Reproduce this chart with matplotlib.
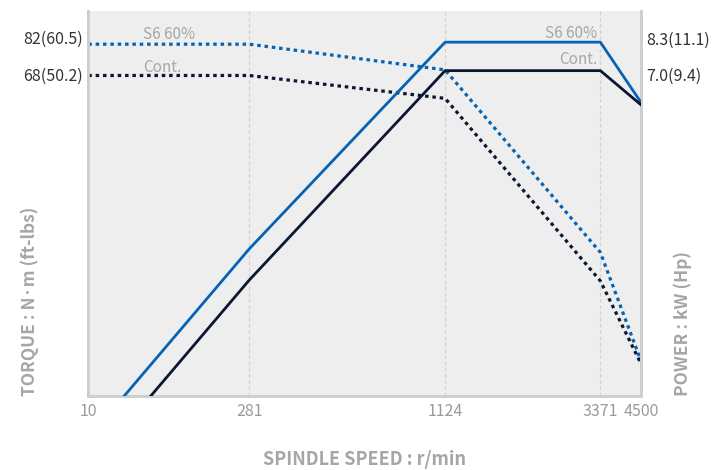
import matplotlib
matplotlib.use("Agg")
import matplotlib.pyplot as plt
from matplotlib.transforms import ScaledTranslation

plt.rcParams['font.family'] = ['Noto Sans CJK KR', 'DejaVu Sans']

# spindle speed (r/min)
speedTicks = [90, 281, 1124, 3371, 4500]
speedLabels = ["10", "281", "1124", "3371", "4500"]

# torque curves, N·m
torqueSpeed = [90, 281, 1124, 3371, 4500]
torqueS6 = [82, 82, 70.3, 23.6, 12.3]
torqueCont = [68, 68, 59.3, 19.9, 12.1]

# power curves, kW
powerSpeedS6 = [116, 281, 1124, 3371, 4500]
powerS6 = [1.0, 2.41, 8.3, 8.3, 5.78]
powerSpeedCont = [140, 281, 1124, 3371, 4500]
powerCont = [1.0, 2.0, 7.0, 7.0, 5.70]

torqueTicks = [82, 68]
torqueLabels = ["82(60.5)", "68(50.2)"]
powerTicks = [8.3, 7.0]
powerLabels = ["8.3(11.1)", "7.0(9.4)"]

blue = "#0663b3"
navy = "#0b1731"
grey = "#a6a6a6"
spine = "#cfcfcf"

fig = plt.figure(figsize=(7.25, 4.70), dpi=100)
ax = fig.add_axes([0.1218, 0.1574, 0.7626, 0.8192])
ax.set_facecolor("#eeeeee")
ax.set_xscale("log")
ax.set_yscale("log")
ax.set_xlim(90, 4500)
ax.set_ylim(10, 100)

ax2 = ax.twinx()
ax2.set_yscale("log")
ax2.set_ylim(1, 10)

for s in speedTicks[1:4]:
    ax.axvline(s, color="#d2d2d2", lw=0.9, ls=(0, (3, 2)), zorder=1)

dots = (0, (1.1, 1.2))
ax.plot(torqueSpeed, torqueS6, color=blue, lw=2.3, ls=dots, zorder=3)
ax.plot(torqueSpeed, torqueCont, color=navy, lw=2.3, ls=dots, zorder=3)
ax2.plot(powerSpeedS6, powerS6, color=blue, lw=2, zorder=3)
ax2.plot(powerSpeedCont, powerCont, color=navy, lw=2, zorder=3)

ax.set_xticks(speedTicks)
ax.set_xticklabels(speedLabels)
ax.xaxis.set_minor_locator(matplotlib.ticker.NullLocator())
ax.tick_params(axis="x", length=0, pad=5, labelsize=11.5, labelcolor="#9a9a9a")

ax.set_yticks(torqueTicks)
ax.set_yticklabels(torqueLabels)
ax.yaxis.set_minor_locator(matplotlib.ticker.NullLocator())
ax.tick_params(axis="y", length=0, pad=4, labelsize=11.5, labelcolor="#333333")

ax2.set_yticks(powerTicks)
ax2.set_yticklabels(powerLabels)
ax2.yaxis.set_minor_locator(matplotlib.ticker.NullLocator())
ax2.tick_params(axis="y", length=0, pad=4, labelsize=11.5, labelcolor="#333333")

# nudge the value labels a bit, like in the original
for lab, dy in zip(ax.get_yticklabels(), [7, 1]):
    lab.set_transform(lab.get_transform() + ScaledTranslation(0, dy / 100, fig.dpi_scale_trans))
for lab, dy in zip(ax2.get_yticklabels(), [4, -4]):
    lab.set_transform(lab.get_transform() + ScaledTranslation(0, dy / 100, fig.dpi_scale_trans))

for a in (ax, ax2):
    a.spines["top"].set_visible(False)
    for side in ("left", "right", "bottom"):
        a.spines[side].set_color(spine)
        a.spines[side].set_linewidth(2)

# curve names
ax.text(0.099, 0.940, "S6 60%", transform=ax.transAxes, color=grey, fontsize=11, va="center", ha="left")
ax.text(0.099, 0.852, "Cont.", transform=ax.transAxes, color=grey, fontsize=11, va="center", ha="left")
ax.text(0.920, 0.942, "S6 60%", transform=ax.transAxes, color=grey, fontsize=11, va="center", ha="right")
ax.text(0.920, 0.873, "Cont.", transform=ax.transAxes, color=grey, fontsize=11, va="center", ha="right")

fig.text(0.503, 0.023, "SPINDLE SPEED : r/min", color=grey, fontsize=13, fontweight="bold", ha="center", va="center")
fig.text(0.041, 0.1574, "TORQUE : N\u00b7m (ft-lbs)", color=grey, fontsize=12.5, fontweight="bold",
         rotation=90, ha="center", va="bottom")
fig.text(0.942, 0.1574, "POWER : kW (Hp)", color=grey, fontsize=12.5, fontweight="bold",
         rotation=90, ha="center", va="bottom")

fig.savefig("out.png", dpi=100)
